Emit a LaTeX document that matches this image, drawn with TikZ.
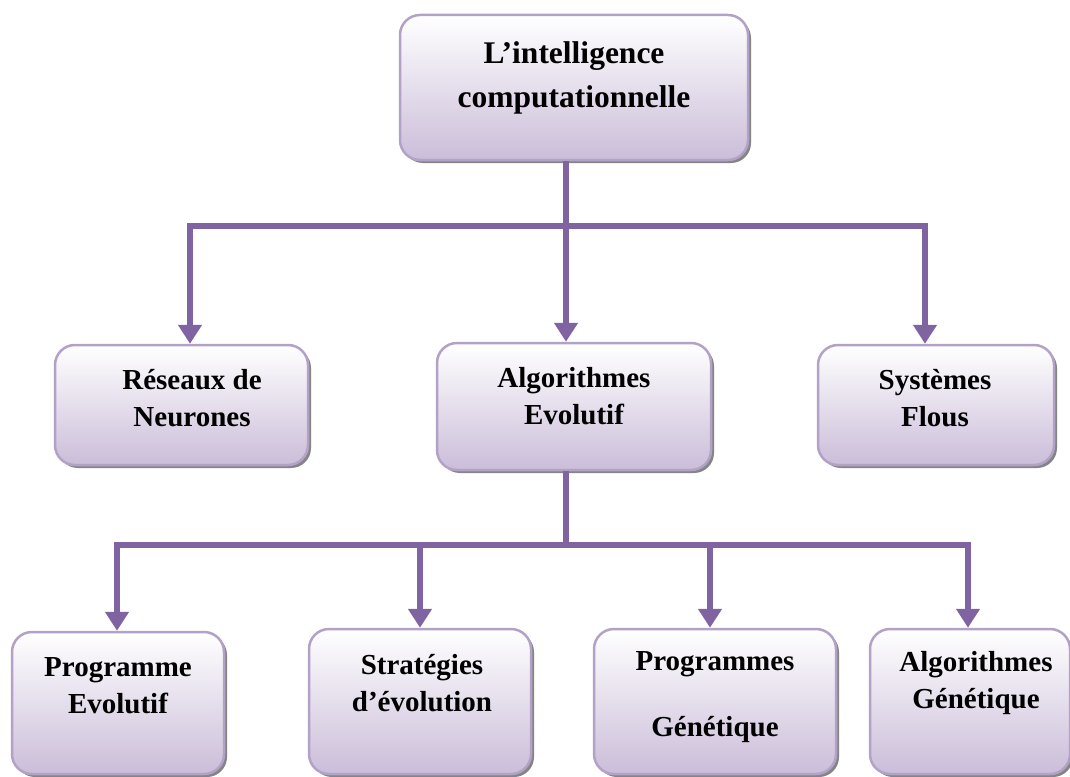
\documentclass[tikz,border=0pt]{standalone}
\usepackage{fontspec}
\setmainfont{Liberation Serif}
\usetikzlibrary{arrows.meta,shadows}
\definecolor{linkpurple}{HTML}{8064A2}
\definecolor{boxedge}{HTML}{B3A2C7}
\definecolor{boxbottom}{HTML}{CBBDD9}
\tikzset{
  catbox/.style={rectangle, rounded corners=20pt, draw=boxedge, line width=2.5pt,
    top color=white, bottom color=boxbottom, inner sep=0pt,
    drop shadow={shadow xshift=3pt, shadow yshift=-3pt, fill=black!60, opacity=0.8}},
  boxlabel/.style={align=center, font=\bfseries\fontsize{29}{37}\selectfont, inner sep=0pt},
  toplabel/.style={align=center, font=\bfseries\fontsize{31.5}{44}\selectfont, inner sep=0pt},
  link/.style={draw=linkpurple, line width=5.5pt},
  drop/.style={link, -{Triangle[width=23pt,length=19pt]}},
}
\begin{document}
\begin{tikzpicture}[x=1pt,y=-1pt]
\useasboundingbox (0,0) rectangle (1070,776);

% boxes
\node[catbox, minimum width=348pt, minimum height=145pt] (ic) at (574,87.5) {};
\node[catbox, minimum width=253pt, minimum height=120pt] (rn) at (181.5,405) {};
\node[catbox, minimum width=274pt, minimum height=127pt] (ae) at (574,406.5) {};
\node[catbox, minimum width=236pt, minimum height=120pt] (sf) at (936,405) {};
\node[catbox, minimum width=212pt, minimum height=142pt] (pe) at (118,703) {};
\node[catbox, minimum width=222pt, minimum height=145pt] (se) at (420,701.5) {};
\node[catbox, minimum width=242pt, minimum height=145pt] (pg) at (715,701.5) {};
\node[catbox, minimum width=200pt, minimum height=145pt] (ag) at (970,701.5) {};

% labels
\node[toplabel] (icl) at (574,78) {L’intelligence\\computationnelle};
\node[boxlabel] (rnl) at (192,398.5) {Réseaux de\\Neurones};
\node[boxlabel] (ael) at (574,396) {Algorithmes\\Evolutif};
\node[boxlabel] (sfl) at (935,398.5) {Systèmes\\Flous};
\node[boxlabel] (pel) at (118,686) {Programme\\Evolutif};
\node[boxlabel] (sel) at (422,683.5) {Stratégies\\d’évolution};
\node[boxlabel, font=\bfseries\fontsize{29}{66}\selectfont] (pgl) at (715,697) {Programmes\\Génétique};
\node[boxlabel] (agl) at (976,683.5) {Algorithmes\\Génétique};

% first level connectors
\coordinate (j1) at (566,226);
\coordinate (a1) at (190,226);
\coordinate (a2) at (566,226);
\coordinate (a3) at (925,226);
\draw[link] (j1 |- ic.south) -- (j1);
\draw[link, line cap=rect] (a1) -- (a3);
\draw[drop] (a1) -- (a1 |- rn.north);
\draw[drop] (a2) -- (a2 |- ae.north);
\draw[drop] (a3) -- (a3 |- sf.north);

% second level connectors
\coordinate (j2) at (566,545);
\coordinate (b1) at (117,545);
\coordinate (b2) at (420,545);
\coordinate (b3) at (710,545);
\coordinate (b4) at (968,545);
\draw[link] (j2 |- ae.south) -- (j2);
\draw[link, line cap=rect] (b1) -- (b4);
\draw[drop] (b1) -- (b1 |- pe.north);
\draw[drop] (b2) -- (b2 |- se.north);
\draw[drop] (b3) -- (b3 |- pg.north);
\draw[drop] (b4) -- (b4 |- ag.north);
\end{tikzpicture}
\end{document}
